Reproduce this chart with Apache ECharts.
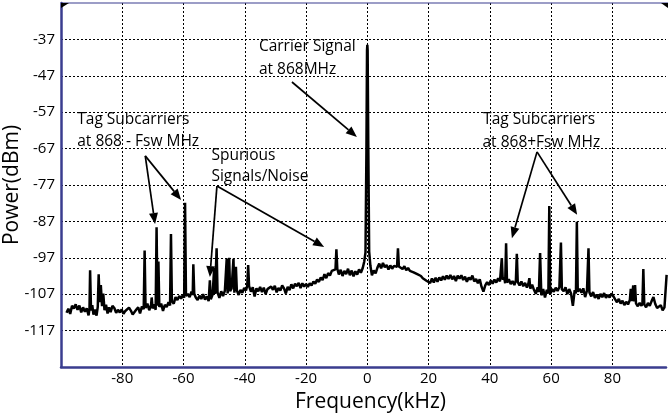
<!DOCTYPE html>
<html><head><meta charset="utf-8">
<script src="https://cdn.jsdelivr.net/npm/echarts@6/dist/echarts.min.js"></script>
<style>html,body{margin:0;padding:0;background:#fff}#c{width:668px;height:420px}</style>
</head><body><div id="c"></div>
<script>
// Spectrum trace: [frequency offset (kHz), power (dBm)]
const spectrum = [
[-98.2,-112.1],[-97.6,-111.0],[-97.0,-112.4],[-96.4,-110.2],[-95.8,-110.9],[-95.2,-109.8],[-94.6,-111.3],[-94.0,-110.1],[-93.4,-112.0],[-92.8,-110.6],[-92.2,-111.8],[-91.6,-110.9],[-91.0,-112.8],[-90.7,-111.0],[-90.5,-100.4],[-90.2,-111.5],[-89.8,-110.0],[-89.4,-112.6],[-88.9,-111.2],[-88.4,-112.9],[-88.0,-110.5],[-87.7,-101.5],[-87.4,-109.2],[-87.0,-104.5],[-86.6,-110.3],[-86.2,-106.8],[-85.8,-111.4],[-85.3,-109.9],[-84.8,-112.3],[-84.3,-110.6],[-83.8,-111.9],[-83.2,-110.2],[-82.6,-110.8],[-82.0,-112.1],[-81.4,-111.3],[-80.8,-112.0],[-80.2,-111.2],[-79.6,-112.4],[-79.0,-111.6],[-78.4,-112.0],[-77.8,-110.7],[-77.2,-111.5],[-76.6,-112.6],[-76.0,-112.9],[-75.4,-111.2],[-74.8,-110.6],[-74.2,-112.3],[-73.6,-110.4],[-73.0,-111.1],[-72.7,-95.0],[-72.4,-110.8],[-71.8,-109.6],[-71.2,-111.4],[-70.6,-110.0],[-70.4,-107.9],[-70.1,-110.9],[-69.5,-109.8],[-69.1,-111.3],[-68.8,-88.6],[-68.5,-110.2],[-68.2,-98.0],[-67.9,-110.5],[-67.3,-109.6],[-66.7,-111.6],[-66.1,-109.9],[-65.5,-110.5],[-64.9,-109.2],[-64.4,-110.1],[-64.1,-90.5],[-63.8,-108.9],[-63.2,-109.6],[-62.6,-107.8],[-62.0,-108.6],[-61.4,-107.5],[-60.8,-108.2],[-60.2,-107.2],[-59.8,-108.0],[-59.5,-81.9],[-59.2,-107.5],[-58.6,-106.9],[-58.0,-107.8],[-57.4,-106.3],[-57.0,-107.2],[-56.8,-98.8],[-56.5,-106.9],[-56.0,-107.9],[-55.4,-108.6],[-54.8,-107.4],[-54.2,-108.3],[-53.6,-107.0],[-53.0,-108.5],[-52.4,-107.6],[-51.8,-108.9],[-51.4,-103.2],[-51.1,-108.4],[-50.5,-107.1],[-50.0,-99.8],[-49.7,-106.9],[-49.2,-94.4],[-48.9,-106.5],[-48.3,-108.0],[-47.7,-106.2],[-47.1,-107.5],[-46.5,-106.0],[-45.9,-97.2],[-45.6,-106.8],[-45.1,-97.0],[-44.8,-106.2],[-44.3,-105.4],[-43.7,-97.3],[-43.4,-106.6],[-42.9,-99.5],[-42.6,-105.9],[-42.0,-107.2],[-41.4,-105.8],[-40.8,-106.6],[-40.2,-105.3],[-39.6,-106.0],[-39.2,-104.6],[-38.9,-99.0],[-38.6,-104.8],[-38.0,-106.3],[-37.4,-105.1],[-36.8,-107.6],[-36.2,-105.4],[-35.6,-106.2],[-35.0,-105.0],[-34.4,-106.4],[-33.8,-105.2],[-33.2,-107.0],[-32.6,-105.6],[-32.0,-106.1],[-31.4,-104.9],[-30.8,-105.8],[-30.2,-104.7],[-29.6,-106.5],[-29.0,-105.3],[-28.4,-106.0],[-27.8,-104.6],[-27.2,-105.4],[-26.6,-106.8],[-26.0,-105.0],[-25.4,-105.9],[-24.8,-104.3],[-24.2,-105.4],[-23.6,-104.1],[-23.0,-104.8],[-22.4,-103.9],[-21.8,-105.3],[-21.2,-104.0],[-20.6,-104.9],[-20.0,-104.2],[-19.4,-105.0],[-18.8,-104.0],[-18.2,-104.6],[-17.6,-103.5],[-17.0,-104.1],[-16.4,-103.0],[-15.8,-103.6],[-15.2,-102.4],[-14.6,-103.1],[-14.0,-101.5],[-13.4,-102.6],[-12.8,-101.2],[-12.2,-101.9],[-11.6,-100.6],[-11.0,-101.0],[-10.4,-100.2],[-10.1,-94.7],[-9.8,-100.0],[-9.3,-101.6],[-8.7,-100.3],[-8.1,-102.0],[-7.5,-100.6],[-6.9,-101.5],[-6.3,-100.0],[-5.7,-101.8],[-5.1,-100.5],[-4.5,-102.1],[-3.9,-100.7],[-3.3,-101.6],[-2.7,-100.2],[-2.1,-101.1],[-1.5,-99.8],[-1.0,-98.0],[-0.6,-95.5],[-0.3,-68.0],[-0.1,-40.0],[0.0,-38.5],[0.1,-40.0],[0.3,-65.0],[0.6,-95.3],[1.0,-99.2],[1.5,-101.8],[2.1,-100.5],[2.7,-101.3],[3.3,-99.7],[3.9,-98.6],[4.5,-99.9],[5.1,-98.4],[5.7,-99.6],[6.3,-99.0],[6.9,-100.2],[7.5,-99.1],[8.1,-100.0],[8.7,-99.2],[9.3,-98.7],[9.7,-99.5],[10.0,-94.4],[10.3,-99.4],[10.9,-98.9],[11.5,-100.1],[12.1,-99.3],[12.7,-100.4],[13.3,-99.8],[13.9,-100.6],[14.5,-100.2],[15.1,-101.0],[15.7,-100.6],[16.3,-101.5],[16.9,-101.2],[17.5,-102.0],[18.1,-102.6],[18.7,-102.2],[19.3,-103.3],[19.9,-102.8],[20.5,-103.9],[21.1,-102.7],[21.7,-103.8],[22.3,-102.5],[22.9,-103.6],[23.5,-102.4],[24.1,-103.2],[24.7,-102.1],[25.3,-103.0],[25.9,-101.9],[26.5,-102.8],[27.1,-101.7],[27.7,-102.9],[28.3,-102.0],[28.9,-103.4],[29.5,-101.9],[30.1,-102.7],[30.7,-101.8],[31.3,-103.1],[31.9,-102.2],[32.5,-103.6],[33.1,-102.4],[33.7,-103.0],[34.3,-101.9],[34.9,-103.5],[35.5,-102.8],[36.1,-104.0],[36.7,-102.9],[37.3,-105.0],[37.9,-106.3],[38.5,-104.6],[39.1,-103.7],[39.7,-104.5],[40.3,-103.2],[40.9,-104.1],[41.5,-103.0],[42.1,-103.8],[42.7,-102.6],[43.3,-103.5],[43.9,-97.1],[44.2,-103.0],[44.7,-102.4],[45.0,-104.0],[45.3,-93.0],[45.6,-103.8],[46.2,-102.9],[46.8,-104.2],[47.4,-103.4],[48.0,-104.5],[48.5,-103.2],[48.8,-95.9],[49.1,-103.6],[49.7,-104.6],[50.3,-103.5],[50.9,-104.8],[51.5,-103.9],[52.1,-105.2],[52.6,-104.0],[52.9,-102.6],[53.2,-105.5],[53.8,-104.4],[54.4,-105.8],[55.0,-106.9],[55.6,-105.1],[56.0,-106.4],[56.4,-95.7],[56.8,-107.3],[57.4,-105.6],[58.0,-107.9],[58.6,-105.8],[59.1,-106.8],[59.4,-82.8],[59.7,-107.0],[60.3,-105.6],[60.9,-106.3],[61.5,-105.2],[62.1,-106.1],[62.7,-105.0],[63.2,-92.8],[63.5,-105.6],[64.1,-106.2],[64.7,-105.1],[65.3,-107.0],[65.9,-105.6],[66.5,-106.8],[67.1,-110.2],[67.7,-105.9],[68.1,-106.8],[68.4,-87.1],[68.7,-106.3],[69.3,-105.5],[69.9,-106.6],[70.5,-105.4],[71.1,-107.8],[71.7,-106.0],[72.2,-94.4],[72.5,-106.5],[73.1,-107.6],[73.7,-106.4],[74.3,-108.0],[74.9,-107.1],[75.5,-108.3],[76.1,-106.9],[76.7,-107.8],[77.3,-106.7],[77.9,-108.0],[78.5,-107.2],[79.1,-107.9],[79.7,-106.8],[80.3,-107.5],[80.9,-108.4],[81.5,-109.2],[82.1,-108.3],[82.7,-109.6],[83.3,-108.8],[83.9,-110.0],[84.5,-109.1],[85.1,-109.8],[85.7,-108.6],[86.0,-105.5],[86.3,-108.9],[86.8,-104.6],[87.1,-109.0],[87.4,-104.5],[87.7,-109.5],[88.3,-110.3],[88.9,-109.4],[89.5,-110.2],[89.8,-109.6],[90.1,-100.1],[90.4,-109.8],[91.0,-110.6],[91.6,-109.4],[92.2,-110.2],[92.8,-108.9],[93.4,-107.8],[94.0,-109.7],[94.6,-110.8],[95.2,-111.2],[95.8,-110.0],[96.4,-111.4],[97.0,-110.6],[97.4,-111.0],[97.7,-101.7]
];
// Axis settings
const xRange = [-100, 97.5];
const xTickStep = 20;
const yRange = [-127, -27];
const yTickStep = 10;
// Annotation texts (anchored in data coordinates: left edge, vertical centre)
const noteTexts = [
  ['Tag Subcarriers', -94.7, -58.9],
  ['at 868 - Fsw MHz', -94.7, -65.0],
  ['Carrier Signal', -35.4, -39.1],
  ['at 868MHz', -35.4, -45.4],
  ['Spurious', -50.9, -68.8],
  ['Signals/Noise', -50.9, -74.8],
  ['Tag Subcarriers', 37.8, -59.1],
  ['at 868+Fsw MHz', 37.6, -65.3]
];
// Annotation arrows: [fromF, fromP, toF, toP]
const noteArrows = [
  [-72.5, -69.0, -69.3, -87.7],
  [-72.5, -69.0, -60.8, -81.1],
  [-49.1, -77.3, -51.4, -102.3],
  [-49.1, -77.3, -14.1, -94.0],
  [-24.6, -48.7, -3.4, -63.8],
  [55.4, -67.9, 47.2, -91.6],
  [55.4, -67.9, 68.5, -85.2]
];

const FONT = 'Open Sans';
const chart = echarts.init(document.getElementById('c'), null, {renderer: 'canvas'});
const gridDot = {show: true, showMinLine: false, showMaxLine: false, lineStyle: {color: '#000', type: [2, 2], width: 1}};
chart.setOption({
  animation: false,
  backgroundColor: '#fff',
  grid: {left: 61, right: 2, top: 3, bottom: 53, containLabel: false, outerBoundsMode: 'none'},
  xAxis: {
    type: 'value', min: xRange[0], max: xRange[1], interval: xTickStep,
    axisLine: {show: true, onZero: false, lineStyle: {color: '#3a3d8f', width: 2.5}},
    axisTick: {show: false},
    axisLabel: {show: true, showMinLabel: false, showMaxLabel: false, color: '#000', fontFamily: FONT, fontSize: 15, margin: 4},
    splitLine: gridDot,
    name: 'Frequency(kHz)', nameLocation: 'middle', nameGap: 25, nameMoveOverlap: false,
    nameTextStyle: {color: '#000', fontFamily: FONT, fontSize: 21, verticalAlign: 'top', padding: [0, 0, 0, 14]}
  },
  yAxis: {
    type: 'value', min: yRange[0], max: yRange[1], interval: yTickStep,
    axisLine: {show: true, onZero: false, lineStyle: {color: '#3a3d8f', width: 2.5}},
    axisTick: {show: false},
    axisLabel: {showMinLabel: false, showMaxLabel: false, color: '#000', fontFamily: FONT, fontSize: 15, margin: 6},
    splitLine: gridDot,
    name: 'Power(dBm)', nameLocation: 'middle', nameGap: 49, nameRotate: 90, nameMoveOverlap: false,
    nameTextStyle: {color: '#000', fontFamily: FONT, fontSize: 21, verticalAlign: 'middle'}
  },
  series: [{
    type: 'line', data: spectrum, showSymbol: false, symbol: 'none',
    lineStyle: {color: '#000', width: 2.5}, clip: true, z: 3
  }]
});

function px(f, p) { return chart.convertToPixel({gridIndex: 0}, [f, p]); }
const graphics = [];
// top frame line and corner marks
const tl = px(xRange[0], yRange[1]), tr = px(xRange[1], yRange[1]);
graphics.push({type: 'line', z: 9, shape: {x1: tl[0], y1: tl[1], x2: tr[0] + 2, y2: tr[1]}, style: {stroke: '#3a3d8f', lineWidth: 1.2}});
graphics.push({type: 'polygon', z: 9, shape: {points: [[tl[0], tl[1]], [tl[0] + 8, tl[1]], [tl[0], tl[1] + 5]]}, style: {fill: '#000'}});
graphics.push({type: 'polygon', z: 9, shape: {points: [[tr[0] + 2, tr[1]], [tr[0] - 5, tr[1]], [tr[0] + 2, tr[1] + 5]]}, style: {fill: '#000'}});
noteTexts.forEach(function (t) {
  const q = px(t[1], t[2]);
  graphics.push({type: 'text', x: q[0], y: q[1], z: 10,
    style: {text: t[0], fill: '#000', font: '15.5px "' + FONT + '"', textAlign: 'left', textVerticalAlign: 'middle'}});
});
noteArrows.forEach(function (a) {
  const s = px(a[0], a[1]), e = px(a[2], a[3]);
  const dx = e[0] - s[0], dy = e[1] - s[1], L = Math.sqrt(dx * dx + dy * dy);
  const ux = dx / L, uy = dy / L, hl = 11, hw = 4.5;
  const bx = e[0] - ux * hl, by = e[1] - uy * hl;
  graphics.push({type: 'line', z: 10, shape: {x1: s[0], y1: s[1], x2: bx, y2: by}, style: {stroke: '#000', lineWidth: 1.7}});
  graphics.push({type: 'polygon', z: 10, shape: {points: [[e[0], e[1]], [bx - uy * hw, by + ux * hw], [bx + uy * hw, by - ux * hw]]}, style: {fill: '#000'}});
});
chart.setOption({graphic: graphics});
</script>
</body></html>
